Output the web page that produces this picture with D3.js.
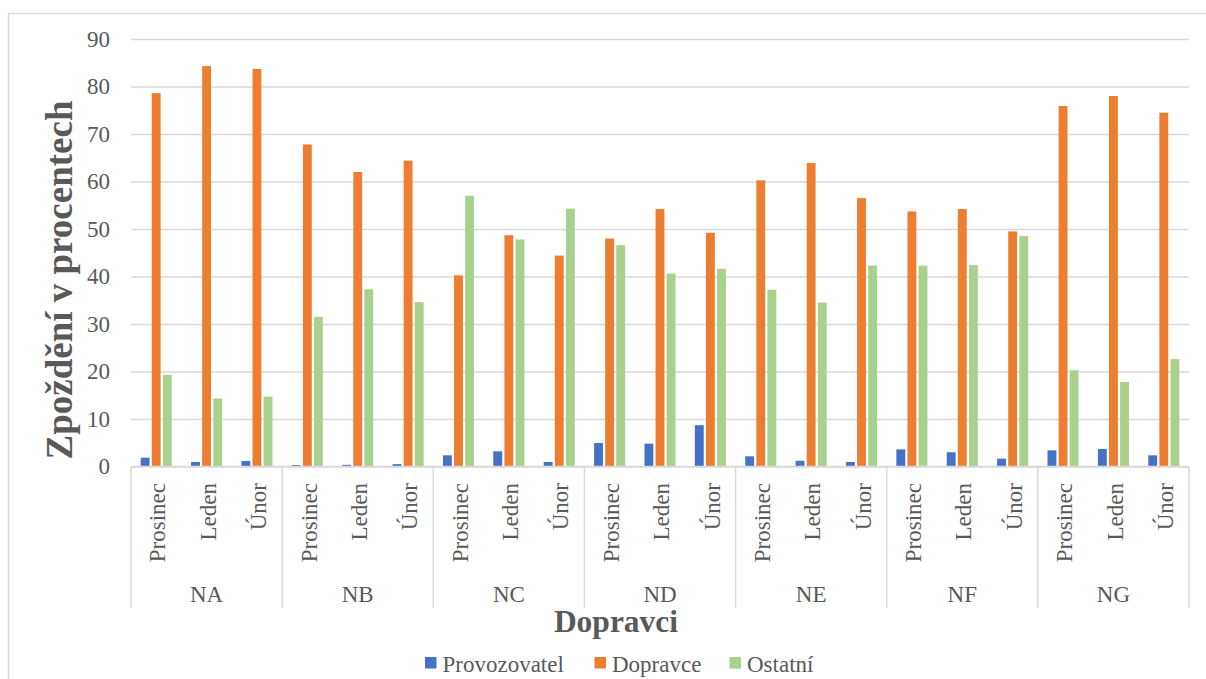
<!DOCTYPE html>
<html>
<head>
<meta charset="utf-8">
<script src="https://cdn.jsdelivr.net/npm/d3@7/dist/d3.min.js"></script>
<style>
  html, body { margin: 0; padding: 0; background: #fff; }
  svg { display: block; }
</style>
</head>
<body>
<svg id="chart" width="1206" height="679"></svg>
<script>
// Carriers (outer category level) and months (inner level)
const groups = ["NA", "NB", "NC", "ND", "NE", "NF", "NG"];
const months = ["Prosinec", "Leden", "Únor"];
const seriesNames = ["Provozovatel", "Dopravce", "Ostatní"];
const seriesColors = ["#4472C4", "#ED7D31", "#A9D18E"];

// Delay share in percent, ordered carrier by carrier, month by month
const provozovatel = [1.85, 0.95, 1.15, 0.3, 0.35, 0.5, 2.35, 3.2, 0.95, 4.95, 4.8, 8.7, 2.15, 1.2, 0.95, 3.6, 3.0, 1.65, 3.4, 3.7, 2.35];
const dopravce = [78.6, 84.3, 83.7, 67.8, 62.0, 64.4, 40.25, 48.7, 44.4, 48.0, 54.2, 49.2, 60.25, 63.9, 56.5, 53.7, 54.2, 49.5, 75.9, 78.0, 74.5];
const ostatni = [19.3, 14.3, 14.7, 31.5, 37.3, 34.6, 57.0, 47.8, 54.3, 46.6, 40.6, 41.6, 37.2, 34.5, 42.3, 42.3, 42.4, 48.5, 20.25, 17.8, 22.6];

const yTicks = [0, 10, 20, 30, 40, 50, 60, 70, 80, 90];
const yTitle = "Zpoždění v procentech";
const xTitle = "Dopravci";

const seriesValues = [provozovatel, dopravce, ostatni];

const FONT = "'Liberation Serif', 'Times New Roman', Times, serif";
const TEXT_COLOR = "#595959";

// Flatten into rows for drawing
const rows = [];
groups.forEach((g, gi) => {
  months.forEach((m, mi) => {
    const idx = gi * months.length + mi;
    seriesNames.forEach((s, si) => {
      rows.push({ group: g, month: m, series: s, si, value: seriesValues[si][idx] });
    });
  });
});

const svg = d3.select("#chart");
const plot = { left: 131, right: 1189, top: 39, bottom: 466.5 };
const gridColor = "#d9d9d9";

function styleText(sel, size, weight) {
  return sel
    .attr("font-family", FONT)
    .style("font-family", FONT)
    .style("font-size", size + "px")
    .style("font-weight", weight || "normal")
    .attr("fill", TEXT_COLOR)
    .style("fill", TEXT_COLOR);
}

// Chart frame (left and top edges)
svg.append("path")
  .attr("d", "M8.5,679 L8.5,13.5 L1206,13.5")
  .attr("fill", "none")
  .attr("stroke", gridColor)
  .attr("stroke-width", 1.5);

// Scales
const y = d3.scaleLinear().domain([0, 90]).range([plot.bottom, plot.top]);
const x0 = d3.scaleBand().domain(groups).range([plot.left, plot.right]).padding(0);
const x1 = d3.scaleBand().domain(months).range([0, x0.bandwidth()]).padding(0);
const x2 = d3.scaleBand().domain(seriesNames).range([0, x1.bandwidth()])
  .paddingInner(0.2).paddingOuter(0.87);
const color = d3.scaleOrdinal().domain(seriesNames).range(seriesColors);

// Horizontal gridlines and y tick labels
const yAxis = d3.axisLeft(y).tickValues(yTicks).tickSize(-(plot.right - plot.left)).tickPadding(21);
const gy = svg.append("g").attr("transform", `translate(${plot.left},0)`).call(yAxis);
gy.attr("font-family", null).attr("font-size", null);
gy.select(".domain").remove();
gy.selectAll(".tick line").attr("stroke", gridColor).attr("stroke-width", 1.5);
styleText(gy.selectAll(".tick text"), 23);

// Bars
svg.append("g").selectAll("rect")
  .data(rows)
  .join("rect")
  .attr("x", d => x0(d.group) + x1(d.month) + x2(d.series))
  .attr("y", d => y(d.value))
  .attr("width", x2.bandwidth())
  .attr("height", d => y(0) - y(d.value))
  .attr("fill", d => color(d.series));

// Category axis line
svg.append("line")
  .attr("x1", plot.left).attr("x2", plot.right)
  .attr("y1", y(0)).attr("y2", y(0))
  .attr("stroke", gridColor).attr("stroke-width", 1.5);

// Group separators spanning both label levels
const bounds = groups.map(g => x0(g)).concat([plot.right]);
svg.append("g").selectAll("line")
  .data(bounds)
  .join("line")
  .attr("x1", d => d).attr("x2", d => d)
  .attr("y1", y(0)).attr("y2", 608)
  .attr("stroke", gridColor).attr("stroke-width", 1.5);

// Month labels (rotated)
const monthLabels = [];
groups.forEach(g => months.forEach(m => monthLabels.push({ g, m })));
styleText(svg.append("g").selectAll("text")
  .data(monthLabels)
  .join("text")
  .attr("transform", d => `translate(${x0(d.g) + x1(d.m) + x1.bandwidth() / 2},483) rotate(-90)`)
  .attr("text-anchor", "end")
  .attr("dy", "0.4em")
  .text(d => d.m), 23);

// Carrier labels
styleText(svg.append("g").selectAll("text")
  .data(groups)
  .join("text")
  .attr("x", d => x0(d) + x0.bandwidth() / 2)
  .attr("y", 602)
  .attr("text-anchor", "middle")
  .text(d => d), 23);

// Axis titles
styleText(svg.append("text")
  .attr("x", 616).attr("y", 631.5)
  .attr("text-anchor", "middle")
  .text(xTitle), 31.5, "bold");

styleText(svg.append("text")
  .attr("transform", "translate(72,280) rotate(-90)")
  .attr("text-anchor", "middle")
  .text(yTitle), 37, "bold");

// Legend
const legendX = [425, 594.5, 729.5];
const legend = svg.append("g").selectAll("g")
  .data(seriesNames)
  .join("g")
  .attr("transform", (d, i) => `translate(${legendX[i]},0)`);
legend.append("rect")
  .attr("x", 0).attr("y", 657)
  .attr("width", 11.5).attr("height", 11.5)
  .attr("fill", d => color(d));
styleText(legend.append("text")
  .attr("x", 17.5).attr("y", 671.5)
  .text(d => d), 23);
</script>
</body>
</html>
